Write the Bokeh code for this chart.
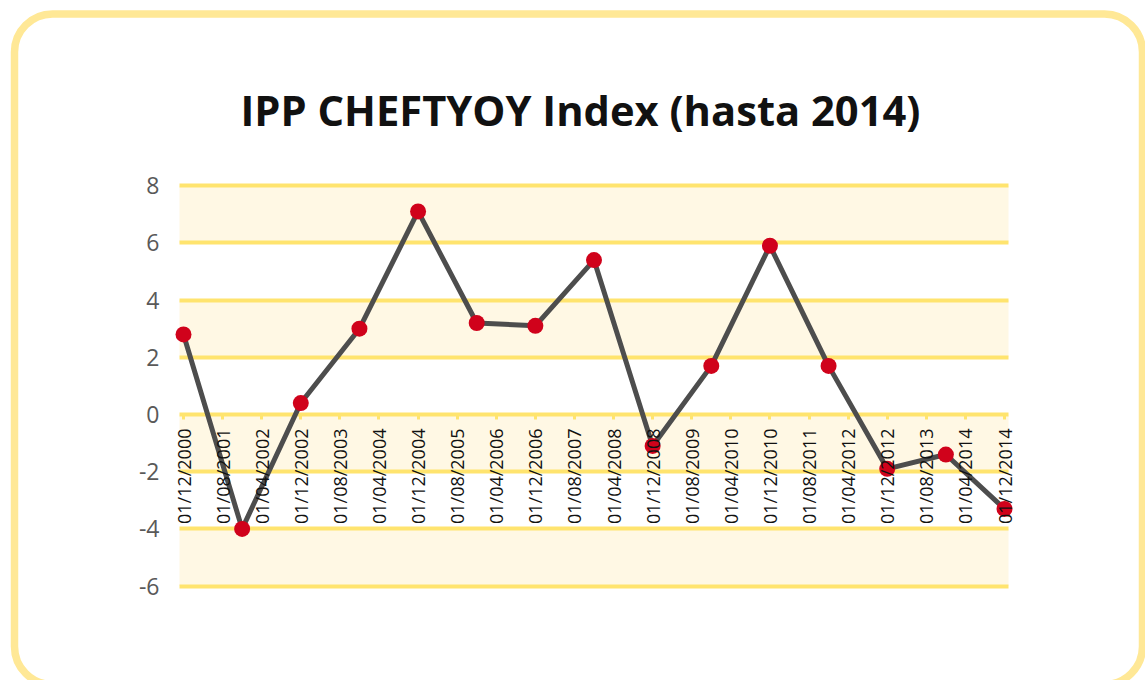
import math
from bokeh.plotting import figure
from bokeh.models import FixedTicker, LinearAxis, BoxAnnotation, Range1d, Grid, Label
from bokeh.embed import file_html
from bokeh.resources import INLINE

# ---- data ----
title_text = "IPP CHEFTYOY Index (hasta 2014)"
point_dates = ["12/2000", "12/2001", "12/2002", "12/2003", "12/2004", "12/2005",
               "12/2006", "12/2007", "12/2008", "12/2009", "12/2010", "12/2011",
               "12/2012", "12/2013", "12/2014"]
values = [2.8, -4.0, 0.4, 3.0, 7.1, 3.2, 3.1, 5.4, -1.1, 1.7, 5.9, 1.7, -1.9, -1.4, -3.3]
tick_labels = ["01/12/2000", "01/08/2001", "01/04/2002", "01/12/2002", "01/08/2003",
               "01/04/2004", "01/12/2004", "01/08/2005", "01/04/2006", "01/12/2006",
               "01/08/2007", "01/04/2008", "01/12/2008", "01/08/2009", "01/04/2010",
               "01/12/2010", "01/08/2011", "01/04/2012", "01/12/2012", "01/08/2013",
               "01/04/2014", "01/12/2014"]
y_ticks = [-6, -4, -2, 0, 2, 4, 6, 8]


def month_index(s):
    parts = s.split("/")
    m, y = int(parts[-2]), int(parts[-1])
    return (y - 2000) * 12 + (m - 12)


xs = [month_index(d) for d in point_dates]
tick_pos = [month_index(t) for t in tick_labels]

# ---- layout (pixel geometry of the canvas) ----
W, H = 1145, 680
X_FIRST_PX, X_LAST_PX = 183.0, 1004.0
Y_ZERO_PX, PX_PER_UNIT = 414.0, 28.6
PX_PER_MONTH = (X_LAST_PX - X_FIRST_PX) / (max(xs) - min(xs))


def px2x(px):
    return min(xs) + (px - X_FIRST_PX) / PX_PER_MONTH


def py2y(py):
    return (Y_ZERO_PX - py) / PX_PER_UNIT


GRID = "#FFE46E"
BAND = "#FFF8E4"
BORDER = "#FFE896"
FONT = "Open Sans"

p = figure(width=W, height=H, output_backend="svg", toolbar_location=None, title=None,
           x_range=Range1d(px2x(0), px2x(W)), y_range=Range1d(py2y(H), py2y(0)),
           min_border=0, x_axis_type=None, y_axis_type=None)
p.outline_line_color = None
p.background_fill_color = "white"
p.border_fill_color = "white"

# grid with bands, restricted horizontally
gx0, gx1 = px2x(179), px2x(1008)
ygrid = Grid(dimension=1, ticker=FixedTicker(ticks=y_ticks))
ygrid.grid_line_color = GRID
ygrid.grid_line_width = 4
ygrid.band_fill_color = BAND
ygrid.band_fill_alpha = 1.0
try:
    ygrid.cross_bounds = (gx0, gx1)
    p.add_layout(ygrid)
except AttributeError:
    band_bottoms = y_ticks[0:-1:2]
    band_tops = y_ticks[1::2]
    p.quad(left=gx0, right=gx1, bottom=band_bottoms, top=band_tops,
           fill_color=BAND, line_color=None, level="underlay")
    p.segment(x0=[gx0] * len(y_ticks), x1=[gx1] * len(y_ticks), y0=y_ticks, y1=y_ticks,
              line_color=GRID, line_width=4, level="underlay")

# y axis
yaxis = LinearAxis(ticker=FixedTicker(ticks=y_ticks), fixed_location=px2x(168))
yaxis.major_label_overrides = {t: str(t) for t in y_ticks}
yaxis.axis_line_color = None
yaxis.major_tick_line_color = None
yaxis.minor_tick_line_color = None
yaxis.major_tick_out = 0
yaxis.major_tick_in = 0
yaxis.major_label_standoff = 9
yaxis.major_label_text_font = FONT
yaxis.major_label_text_font_size = "23px"
yaxis.major_label_text_color = "#595959"
p.add_layout(yaxis, "left")

# x axis at y = 0
xaxis = LinearAxis(ticker=FixedTicker(ticks=tick_pos), fixed_location=0)
xaxis.major_label_overrides = {t: l for t, l in zip(tick_pos, tick_labels)}
xaxis.major_label_orientation = math.pi / 2
xaxis.axis_line_color = None
xaxis.major_tick_line_color = GRID
xaxis.major_tick_line_width = 3
xaxis.major_tick_out = 5
xaxis.major_tick_in = 0
xaxis.minor_tick_line_color = None
xaxis.major_label_standoff = 9
xaxis.major_label_text_font = FONT
xaxis.major_label_text_font_size = "18px"
xaxis.major_label_text_color = "#111111"
p.add_layout(xaxis, "below")

p.line(xs, values, line_color="#4D4D4D", line_width=5)
p.scatter(xs, values, size=16, fill_color="#D0021B", line_color=None)

title = Label(x=px2x(580), y=py2y(109), text=title_text, text_align="center",
              text_baseline="alphabetic", text_font=FONT, text_font_style="bold",
              text_font_size="41.7px", text_color="#111111")
p.add_layout(title)

frame_box = BoxAnnotation(left=px2x(14), right=px2x(1142), top=py2y(13.5), bottom=py2y(684),
                          fill_color=None, fill_alpha=0, line_color=BORDER, line_width=7.5,
                          line_alpha=1.0, border_radius=38)
p.add_layout(frame_box)

open("out.html", "w").write(file_html(p, INLINE))
